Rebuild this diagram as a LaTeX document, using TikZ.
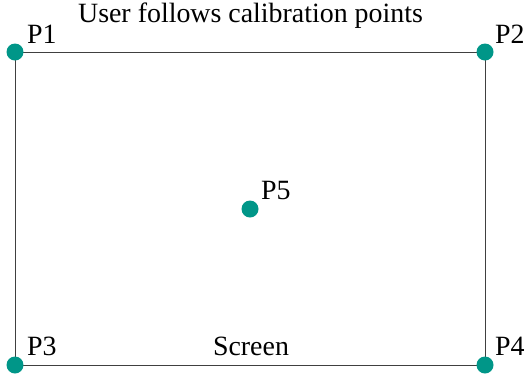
\documentclass[tikz,border=0pt]{standalone}
\usepackage{fontspec}
\setmainfont{Liberation Serif}
\definecolor{dotteal}{HTML}{009688}
\begin{document}
\begin{tikzpicture}[x=1bp,y=-1bp,
  dot/.style={circle,fill=dotteal,inner sep=0pt,minimum size=17bp},
  lbl/.style={anchor=base west,inner sep=0pt,font=\fontsize{28}{30}\selectfont},
  txt/.style={anchor=base,inner sep=0pt,font=\fontsize{28}{30}\selectfont},
  edge/.style={draw=black!75,line width=0.9bp}]
\useasboundingbox (0,0) rectangle (525,377);
\coordinate (c1) at (15,52);
\coordinate (c2) at (485,52);
\coordinate (c3) at (15,365);
\coordinate (c4) at (485,365);
\draw[edge] (c1) -- (c2) -- (c4) -- (c3) -- cycle;
\node[dot] (p1) at (c1) {};
\node[dot] (p2) at (c2) {};
\node[dot] (p3) at (c3) {};
\node[dot] (p4) at (c4) {};
\node[dot] (p5) at (250,209) {};
\node[lbl] (l1) at ([shift={(12,-9)}]p1.center) {P1};
\node[lbl] (l2) at ([shift={(10,-9)}]p2.center) {P2};
\node[lbl] (l3) at ([shift={(12,-10)}]p3.center) {P3};
\node[lbl] (l4) at ([shift={(10,-10)}]p4.center) {P4};
\node[lbl] (l5) at ([shift={(11,-10)}]p5.center) {P5};
\node[txt] (title) at (250.5,22) {User follows calibration points};
\node[txt] (screen) at (251,355) {Screen};
\end{tikzpicture}
\end{document}
